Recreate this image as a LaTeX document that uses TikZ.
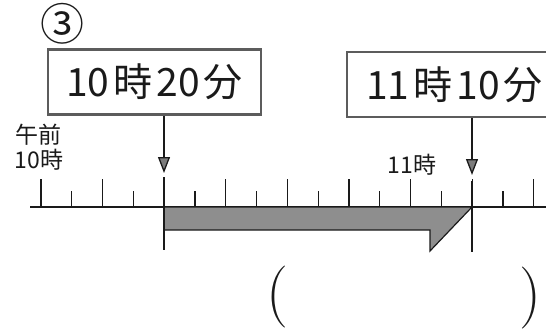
\documentclass[tikz,border=0pt]{standalone}
\usepackage{fontspec}
\newfontfamily\jp{Noto Sans CJK JP}
\usepackage{xcolor}
\usetikzlibrary{arrows.meta}
\definecolor{ink}{HTML}{1A1A1A}
\definecolor{frame}{HTML}{5C5C5C}
\definecolor{barfill}{HTML}{8E8E8E}
\definecolor{headfill}{HTML}{7C7C7C}
\newcommand{\gap}{\hspace{4pt}}
\tikzset{
  axis/.style={draw=ink, line width=1.3pt},
  tick/.style={draw=ink, line width=1.3pt},
  timebox/.style={draw=frame, line width=2.6pt, inner sep=0pt, minimum height=65pt,
    text=ink, font=\jp\fontsize{39}{39}\selectfont},
  pointer/.style={draw=ink, line width=1.3pt, -{Triangle[length=16pt,width=12pt,fill=headfill]}},
  bar/.style={draw=ink, fill=barfill, line width=1.2pt, line join=miter},
  lab/.style={text=ink, font=\jp\fontsize{23}{25}\selectfont, inner sep=0pt},
  paren/.style={text=ink, inner sep=0pt, font=\fontsize{62}{62}\selectfont}
}

\begin{document}
\begin{tikzpicture}[x=1pt, y=-1pt]
  \useasboundingbox (0,0) rectangle (546,332);
  % number of the question
  \node[text=ink, inner sep=0pt, font=\jp\fontsize{44}{44}\selectfont] (num) at (62,24) {③};
  % start and finish times
  \node[timebox, minimum width=213pt] (start) at (154.5,82) {10\gap 時\gap 20\gap 分};
  \node[timebox, minimum width=215pt] (finish) at (454.5,84.5) {11\gap 時\gap 10\gap 分};
  \coordinate (startmark) at (164,173);
  \coordinate (finishmark) at (472,175);
  \draw[pointer] (start.south -| startmark) -- (startmark);
  \draw[pointer] (finish.south -| finishmark) -- (finishmark);
  % time line, one tick every 5 minutes
  \draw[axis] (30,207) -- (560,207);
  \foreach \i in {0,...,16} {
    \pgfmathsetmacro{\tx}{41+30.8*\i}
    \ifodd\i
      \draw[tick] (\tx,191) -- (\tx,207);
    \else
      \draw[tick] (\tx,179) -- (\tx,207);
    \fi
  }
  % elapsed time
  \draw[bar] (164,207) -- (472,207) -- (430,251) -- (430,230) -- (164,230) -- cycle;
  \draw[tick] (164,177) -- (164,250);
  \draw[tick] (472,181) -- (472,252);
  % hour labels
  \node[lab, align=center] (am10) at (39,147) {午前\\10時};
  \node[lab] (h11) at (412,165) {11時};
  % answer blank
  \node[paren] (lparen) at (277,297) {(};
  \node[paren] (rparen) at (530,298) {)};
\end{tikzpicture}
\end{document}
